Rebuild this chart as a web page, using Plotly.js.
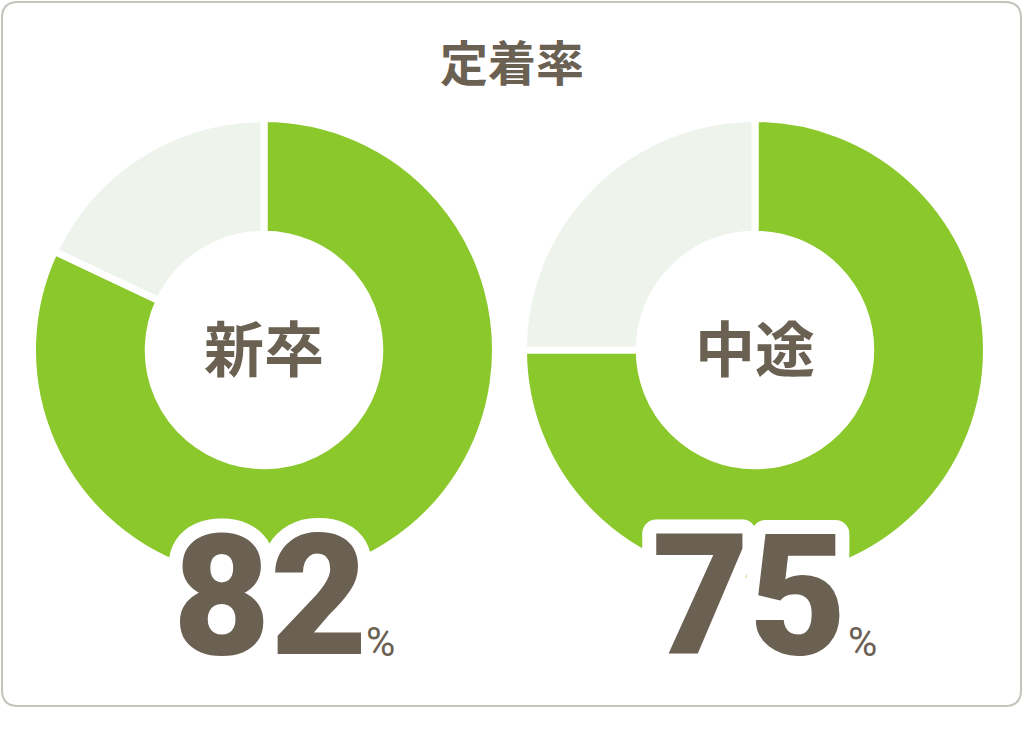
<!DOCTYPE html>
<html>
<head>
<meta charset="utf-8">
<script src="https://cdn.plot.ly/plotly-3.0.1.min.js"></script>
<style>
  html, body { margin: 0; padding: 0; background: #fff; }
  #chart { width: 1024px; height: 742px; }
</style>
</head>
<body>
<div id="chart"></div>
<script>
const chartTitle = '定着率';
const groups = ['新卒', '中途'];
const retained = [82, 75];
const sliceLabels = ['定着', 'その他'];

const textColor = '#6b6153';
const green = '#8ac82c';
const pale = '#eef3ec';

const domainsX = [[0.0317, 0.4839], [0.5112, 0.9634]];
const domainY = [0.2163, 0.8403];

const traces = groups.map((g, i) => ({
  type: 'pie',
  labels: sliceLabels,
  values: [retained[i], 100 - retained[i]],
  hole: 0.5,
  sort: false,
  direction: 'clockwise',
  rotation: 0,
  textinfo: 'none',
  hoverinfo: 'label+percent',
  showlegend: false,
  marker: { colors: [green, pale], line: { color: '#ffffff', width: 7 } },
  domain: { x: domainsX[i], y: domainY }
}));

const centers = [0.2578, 0.7373];
const numberX = [0.2637, 0.7324];
const percentX = [0.3555, 0.8262];

const annotations = [
  {
    text: chartTitle, xref: 'paper', yref: 'paper', x: 0.5, y: 0.919,
    xanchor: 'center', yanchor: 'middle', showarrow: false,
    font: { family: 'Noto Sans CJK JP', size: 48, weight: 700, color: textColor }
  }
];

groups.forEach((g, i) => {
  annotations.push({
    text: g, xref: 'paper', yref: 'paper', x: centers[i], y: 0.535,
    xanchor: 'center', yanchor: 'middle', showarrow: false,
    font: { family: 'Noto Sans CJK JP', size: 60, weight: 700, color: textColor }
  });
  // big number with a white rounded outline painted under the fill
  annotations.push({
    text: '<span style="stroke:#ffffff;stroke-width:28px;stroke-linejoin:round;paint-order:stroke;">' +
      retained[i] + '</span>',
    xref: 'paper', yref: 'paper', x: numberX[i], y: 0.06,
    xanchor: 'center', yanchor: 'bottom', showarrow: false,
    font: { family: 'Roboto', size: 168, weight: 900, color: textColor }
  });
  annotations.push({
    text: '%', xref: 'paper', yref: 'paper', x: percentX[i], y: 0.10,
    xanchor: 'left', yanchor: 'bottom', showarrow: false,
    font: { family: 'Roboto', size: 40, weight: 400, color: textColor }
  });
});

// rounded frame in paper coordinates
const x0 = 2 / 1024, x1 = 1021 / 1024, y0 = 1 - 706 / 742, y1 = 1 - 2 / 742;
const rx = 16 / 1024, ry = 16 / 742;
const framePath = [
  'M', x0 + rx, y1,
  'L', x1 - rx, y1, 'Q', x1, y1, x1, y1 - ry,
  'L', x1, y0 + ry, 'Q', x1, y0, x1 - rx, y0,
  'L', x0 + rx, y0, 'Q', x0, y0, x0, y0 + ry,
  'L', x0, y1 - ry, 'Q', x0, y1, x0 + rx, y1, 'Z'
].join(' ');

const layout = {
  width: 1024,
  height: 742,
  margin: { l: 0, r: 0, t: 0, b: 0 },
  paper_bgcolor: '#ffffff',
  plot_bgcolor: '#ffffff',
  annotations: annotations,
  shapes: [{
    type: 'path', xref: 'paper', yref: 'paper', path: framePath,
    line: { color: '#c6c2bc', width: 2 }, fillcolor: 'rgba(0,0,0,0)', layer: 'below'
  }]
};

Plotly.newPlot('chart', traces, layout, { displayModeBar: false, responsive: false });
</script>
</body>
</html>
